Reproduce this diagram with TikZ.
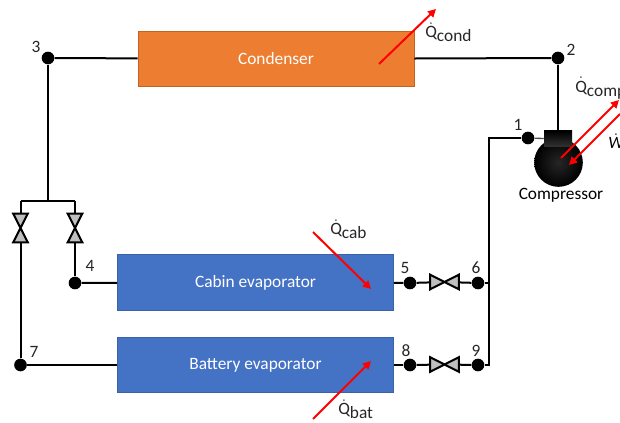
\documentclass[tikz,border=0pt]{standalone}
\usepackage{fontspec}
\setmainfont{Carlito}
\usepackage{xcolor}
\usetikzlibrary{arrows.meta, calc}
\definecolor{condorange}{HTML}{ED7D31}
\definecolor{condedge}{HTML}{C0651F}
\definecolor{evapblue}{HTML}{4472C4}
\definecolor{evapedge}{HTML}{3A62A8}
\definecolor{valvegray}{HTML}{BFBFBF}
\definecolor{labelgray}{HTML}{262626}
\newcommand{\heatlabel}[1]{$\dot{\mbox{Q}}$\raisebox{-3pt}{#1}}
\tikzset{
  unitbox/.style={draw, line width=0.6pt, text=white, font=\fontsize{13}{15}\selectfont,
    minimum width=207pt, minimum height=41.5pt, inner sep=0pt},
  junction/.style={circle, fill=black, minimum size=9.5pt, inner sep=0pt},
  numlabel/.style={text=labelgray, font=\fontsize{13}{15}\selectfont, inner sep=0pt},
  heatname/.style={text=labelgray, font=\fontsize{13}{15}\selectfont, inner sep=0pt, anchor=west},
  wire/.style={line width=1.5pt, black},
  heatflow/.style={line width=1.5pt, red, -{Triangle[length=6pt, width=6pt]}},
  valvev/.style={minimum width=10.5pt, minimum height=21pt, inner sep=0pt},
  valveh/.style={minimum width=21pt, minimum height=10.5pt, inner sep=0pt},
  valveshape/.style={draw=black, fill=valvegray, line width=1.5pt, line join=miter},
}
\begin{document}
\begin{tikzpicture}[x=0.75pt, y=-0.75pt]
    \useasboundingbox (0,0) rectangle (620,423);

    \node[unitbox, fill=condorange, draw=condedge] (condenser) at (276,59) {Condenser};
    \node[unitbox, fill=evapblue, draw=evapedge] (cabin) at (255.5,282.5) {Cabin evaporator};
    \node[unitbox, fill=evapblue, draw=evapedge] (battery) at (255.5,365) {Battery evaporator};

    \node[junction] (j1) at (528,138) {};
    \node[junction] (j2) at (558,58) {};
    \node[junction] (j3) at (48,58) {};
    \node[junction] (j4) at (75,283) {};
    \node[junction] (j5) at (410,283) {};
    \node[junction] (j6) at (478,283) {};
    \node[junction] (j7) at (20.5,365) {};
    \node[junction] (j8) at (410,365) {};
    \node[junction] (j9) at (478,365) {};

    \node[numlabel] (n1) at (518,125) {1};
    \node[numlabel] (n2) at (571,50) {2};
    \node[numlabel] (n3) at (36,47) {3};
    \node[numlabel] (n4) at (90,266) {4};
    \node[numlabel] (n5) at (405,268) {5};
    \node[numlabel] (n6) at (476,268) {6};
    \node[numlabel] (n7) at (34,352) {7};
    \node[numlabel] (n8) at (406,351) {8};
    \node[numlabel] (n9) at (476,351) {9};

    \node[valvev] (vbat) at (20.5,228) {};
    \node[valvev] (vcab) at (75,228) {};
    \node[valveh] (vfive) at (444.5,282) {};
    \node[valveh] (veight) at (444.5,364.5) {};

    \coordinate (branch) at (48,201);
    \coordinate (branchbat) at (20.5,201);
    \coordinate (branchcab) at (75,201);
    \coordinate (pipetop) at (489,138);
    \coordinate (pipebot) at (489,365);

    \draw[wire] (condenser) -- (j3);
    \draw[wire] (condenser) -- (j2);
    \draw[wire] (j3) -- (branch);
    \draw[wire] (branchbat) -- (branchcab);
    \draw[wire] (branchbat) -- (vbat.north);
    \draw[wire] (branchcab) -- (vcab.north);
    \draw[wire] (vbat.south) -- (j7);
    \draw[wire] (vcab.south) -- (j4);
    \draw[wire] (j4) -- (cabin);
    \draw[wire] (j7) -- (battery);
    \draw[wire] (cabin) -- (j5);
    \draw[wire] (battery) -- (j8);
    \draw[wire] (j5) -- (vfive);
    \draw[wire] (vfive) -- (j6);
    \draw[wire] (j8) -- (veight);
    \draw[wire] (veight) -- (j9);
    \draw[wire] (j9) -- (pipebot) -- (pipetop) -- (j1);
    \draw[wire] (j6) -- (489,283);

    \foreach \v in {vbat, vcab}
      \draw[valveshape] (\v.north west) -- (\v.north east) -- (\v.south west) -- (\v.south east) -- cycle;
    \foreach \v in {vfive, veight}
      \draw[valveshape] (\v.north west) -- (\v.south west) -- (\v.north east) -- (\v.south east) -- cycle;

    \node[circle, minimum size=36.5pt, inner sep=0pt, inner color=black!85, outer color=black] (ball) at (558.5,162.5) {};
    \node[minimum width=21pt, minimum height=12pt, inner sep=0pt, top color=black, bottom color=black!80] (head) at (558,139) {};
    \node[text=black, font=\fontsize{13}{15}\selectfont, inner sep=0pt] (compname) at (561,195.5) {Compressor};
    \draw[wire, line width=1pt, black!70] (j1) -- (head);
    \draw[wire] (j2) -- (head);

    \coordinate (condfrom) at (379,64);
    \coordinate (condto) at (436,9);
    \coordinate (compfrom) at (561,158);
    \coordinate (compto) at (619,100);
    \coordinate (workfrom) at (620,114);
    \coordinate (workto) at (569,165);
    \coordinate (cabfrom) at (313,232);
    \coordinate (cabto) at (371,289);
    \coordinate (batfrom) at (313,419);
    \coordinate (batto) at (371,361);

    \draw[heatflow] (condfrom) -- (condto);
    \draw[heatflow] (compfrom) -- (compto);
    \draw[heatflow] (workfrom) -- (workto);
    \draw[heatflow] (cabfrom) -- (cabto);
    \draw[heatflow] (batfrom) -- (batto);

    \node[heatname] (qcond) at (425,32) {\heatlabel{cond}};
    \node[heatname] (qcomp) at (575,88) {\heatlabel{comp}};
    \node[heatname] (qcab) at (330,229) {\heatlabel{cab}};
    \node[heatname] (qbat) at (338,409) {\heatlabel{bat}};
    \node[heatname, text=black] (wdot) at (608,141) {$\dot{\mbox{\itshape W}}$};
\end{tikzpicture}
\end{document}
